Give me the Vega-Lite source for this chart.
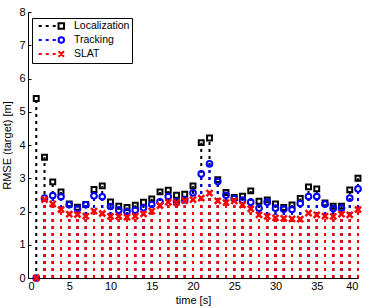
{
  "$schema": "https://vega.github.io/schema/vega-lite/v6.json",
  "width": 330,
  "height": 266,
  "autosize": {"type": "none"},
  "padding": {"left": 28, "top": 12, "right": 16, "bottom": 30},
  "background": "white",
  "config": {
    "view": {"stroke": null},
    "font": "Liberation Sans",
    "axis": {
      "grid": false,
      "domainColor": "#000000",
      "tickColor": "#000000",
      "labelColor": "#000000",
      "titleColor": "#000000",
      "labelFontSize": 11,
      "titleFontSize": 11,
      "titleFontWeight": "normal",
      "tickSize": -3,
      "labelFont": "Liberation Sans",
      "titleFont": "Liberation Sans"
    },
    "legend": {
      "orient": "none",
      "legendX": 4,
      "legendY": 6,
      "strokeColor": "#000000",
      "fillColor": "#ffffff",
      "padding": 2,
      "rowPadding": 0,
      "labelFontSize": 10.5,
      "labelFont": "Liberation Sans",
      "labelColor": "#000000",
      "labelOffset": 28,
      "symbolSize": 100,
      "symbolStrokeWidth": 2,
      "symbolFillColor": "transparent"
    }
  },
  "data": {
    "values": [
      {"t": 1, "series": "Localization", "v": 5.40},
      {"t": 2, "series": "Localization", "v": 3.63},
      {"t": 3, "series": "Localization", "v": 2.89},
      {"t": 4, "series": "Localization", "v": 2.59},
      {"t": 5, "series": "Localization", "v": 2.23},
      {"t": 6, "series": "Localization", "v": 2.13},
      {"t": 7, "series": "Localization", "v": 2.21},
      {"t": 8, "series": "Localization", "v": 2.66},
      {"t": 9, "series": "Localization", "v": 2.77},
      {"t": 10, "series": "Localization", "v": 2.29},
      {"t": 11, "series": "Localization", "v": 2.16},
      {"t": 12, "series": "Localization", "v": 2.12},
      {"t": 13, "series": "Localization", "v": 2.19},
      {"t": 14, "series": "Localization", "v": 2.28},
      {"t": 15, "series": "Localization", "v": 2.38},
      {"t": 16, "series": "Localization", "v": 2.59},
      {"t": 17, "series": "Localization", "v": 2.64},
      {"t": 18, "series": "Localization", "v": 2.49},
      {"t": 19, "series": "Localization", "v": 2.52},
      {"t": 20, "series": "Localization", "v": 2.77},
      {"t": 21, "series": "Localization", "v": 4.07},
      {"t": 22, "series": "Localization", "v": 4.21},
      {"t": 23, "series": "Localization", "v": 2.96},
      {"t": 24, "series": "Localization", "v": 2.57},
      {"t": 25, "series": "Localization", "v": 2.42},
      {"t": 26, "series": "Localization", "v": 2.46},
      {"t": 27, "series": "Localization", "v": 2.62},
      {"t": 28, "series": "Localization", "v": 2.31},
      {"t": 29, "series": "Localization", "v": 2.35},
      {"t": 30, "series": "Localization", "v": 2.23},
      {"t": 31, "series": "Localization", "v": 2.12},
      {"t": 32, "series": "Localization", "v": 2.20},
      {"t": 33, "series": "Localization", "v": 2.39},
      {"t": 34, "series": "Localization", "v": 2.74},
      {"t": 35, "series": "Localization", "v": 2.68},
      {"t": 36, "series": "Localization", "v": 2.26},
      {"t": 37, "series": "Localization", "v": 2.16},
      {"t": 38, "series": "Localization", "v": 2.16},
      {"t": 39, "series": "Localization", "v": 2.65},
      {"t": 40, "series": "Localization", "v": 3.00},
      {"t": 1, "series": "Tracking", "v": 0},
      {"t": 2, "series": "Tracking", "v": 2.40},
      {"t": 3, "series": "Tracking", "v": 2.48},
      {"t": 4, "series": "Tracking", "v": 2.44},
      {"t": 5, "series": "Tracking", "v": 2.20},
      {"t": 6, "series": "Tracking", "v": 2.08},
      {"t": 7, "series": "Tracking", "v": 2.20},
      {"t": 8, "series": "Tracking", "v": 2.47},
      {"t": 9, "series": "Tracking", "v": 2.44},
      {"t": 10, "series": "Tracking", "v": 2.15},
      {"t": 11, "series": "Tracking", "v": 2.04},
      {"t": 12, "series": "Tracking", "v": 1.99},
      {"t": 13, "series": "Tracking", "v": 2.04},
      {"t": 14, "series": "Tracking", "v": 2.11},
      {"t": 15, "series": "Tracking", "v": 2.21},
      {"t": 16, "series": "Tracking", "v": 2.29},
      {"t": 17, "series": "Tracking", "v": 2.45},
      {"t": 18, "series": "Tracking", "v": 2.30},
      {"t": 19, "series": "Tracking", "v": 2.35},
      {"t": 20, "series": "Tracking", "v": 2.56},
      {"t": 21, "series": "Tracking", "v": 3.13},
      {"t": 22, "series": "Tracking", "v": 3.43},
      {"t": 23, "series": "Tracking", "v": 2.90},
      {"t": 24, "series": "Tracking", "v": 2.49},
      {"t": 25, "series": "Tracking", "v": 2.39},
      {"t": 26, "series": "Tracking", "v": 2.34},
      {"t": 27, "series": "Tracking", "v": 2.28},
      {"t": 28, "series": "Tracking", "v": 2.10},
      {"t": 29, "series": "Tracking", "v": 2.28},
      {"t": 30, "series": "Tracking", "v": 2.10},
      {"t": 31, "series": "Tracking", "v": 2.07},
      {"t": 32, "series": "Tracking", "v": 2.06},
      {"t": 33, "series": "Tracking", "v": 2.24},
      {"t": 34, "series": "Tracking", "v": 2.45},
      {"t": 35, "series": "Tracking", "v": 2.45},
      {"t": 36, "series": "Tracking", "v": 2.22},
      {"t": 37, "series": "Tracking", "v": 2.09},
      {"t": 38, "series": "Tracking", "v": 2.10},
      {"t": 39, "series": "Tracking", "v": 2.40},
      {"t": 40, "series": "Tracking", "v": 2.68},
      {"t": 1, "series": "SLAT", "v": 0},
      {"t": 2, "series": "SLAT", "v": 2.36},
      {"t": 3, "series": "SLAT", "v": 2.23},
      {"t": 4, "series": "SLAT", "v": 2.06},
      {"t": 5, "series": "SLAT", "v": 1.92},
      {"t": 6, "series": "SLAT", "v": 1.91},
      {"t": 7, "series": "SLAT", "v": 1.86},
      {"t": 8, "series": "SLAT", "v": 2.01},
      {"t": 9, "series": "SLAT", "v": 1.94},
      {"t": 10, "series": "SLAT", "v": 1.85},
      {"t": 11, "series": "SLAT", "v": 1.85},
      {"t": 12, "series": "SLAT", "v": 1.83},
      {"t": 13, "series": "SLAT", "v": 1.86},
      {"t": 14, "series": "SLAT", "v": 1.93},
      {"t": 15, "series": "SLAT", "v": 2.01},
      {"t": 16, "series": "SLAT", "v": 2.18},
      {"t": 17, "series": "SLAT", "v": 2.28},
      {"t": 18, "series": "SLAT", "v": 2.27},
      {"t": 19, "series": "SLAT", "v": 2.33},
      {"t": 20, "series": "SLAT", "v": 2.36},
      {"t": 21, "series": "SLAT", "v": 2.40},
      {"t": 22, "series": "SLAT", "v": 2.55},
      {"t": 23, "series": "SLAT", "v": 2.32},
      {"t": 24, "series": "SLAT", "v": 2.27},
      {"t": 25, "series": "SLAT", "v": 2.32},
      {"t": 26, "series": "SLAT", "v": 2.20},
      {"t": 27, "series": "SLAT", "v": 2.08},
      {"t": 28, "series": "SLAT", "v": 1.90},
      {"t": 29, "series": "SLAT", "v": 1.85},
      {"t": 30, "series": "SLAT", "v": 1.81},
      {"t": 31, "series": "SLAT", "v": 1.79},
      {"t": 32, "series": "SLAT", "v": 1.78},
      {"t": 33, "series": "SLAT", "v": 1.77},
      {"t": 34, "series": "SLAT", "v": 1.95},
      {"t": 35, "series": "SLAT", "v": 1.90},
      {"t": 36, "series": "SLAT", "v": 1.86},
      {"t": 37, "series": "SLAT", "v": 1.85},
      {"t": 38, "series": "SLAT", "v": 1.92},
      {"t": 39, "series": "SLAT", "v": 1.90},
      {"t": 40, "series": "SLAT", "v": 2.06}
    ]
  },
  "encoding": {
    "x": {
      "field": "t",
      "type": "quantitative",
      "scale": {"domain": [0, 40], "nice": false},
      "axis": {
        "title": "time [s]",
        "values": [0, 5, 10, 15, 20, 25, 30, 35, 40],
        "labelPadding": 5,
        "titlePadding": 3
      }
    },
    "y": {
      "field": "v",
      "type": "quantitative",
      "scale": {"domain": [0, 8], "nice": false},
      "axis": {
        "title": "RMSE (target) [m]",
        "values": [0, 1, 2, 3, 4, 5, 6, 7, 8],
        "labelPadding": 6,
        "titlePadding": 6
      }
    }
  },
  "layer": [
    {
      "transform": [{"filter": "datum.series === 'Localization'"}],
      "mark": {"type": "rule", "stroke": "#000000", "strokeWidth": 2, "strokeDash": [3, 4], "strokeCap": "butt", "strokeDashOffset": {"expr": "scale('y', datum.v) - scale('y', 0) + 3"}},
      "encoding": {"y2": {"datum": 0}}
    },
    {
      "transform": [{"filter": "datum.series === 'Localization'"}],
      "mark": {"type": "point", "shape": "square", "filled": false, "size": 24, "strokeWidth": 2, "opacity": 1},
      "encoding": {
        "color": {
          "field": "series",
          "type": "nominal",
          "scale": {"domain": ["Localization", "Tracking", "SLAT"], "range": ["#000000", "#0000ff", "#ff0000"]},
          "legend": {"title": null}
        }
      }
    },
    {
      "transform": [{"filter": "datum.series === 'Tracking'"}],
      "mark": {"type": "rule", "stroke": "#0000ff", "strokeWidth": 2, "strokeDash": [3, 4], "strokeCap": "butt", "strokeDashOffset": {"expr": "scale('y', datum.v) - scale('y', 0) + 3"}},
      "encoding": {"y2": {"datum": 0}}
    },
    {
      "transform": [{"filter": "datum.series === 'Tracking'"}],
      "mark": {"type": "point", "shape": "circle", "filled": false, "size": 32, "strokeWidth": 2, "opacity": 1},
      "encoding": {
        "color": {"field": "series", "type": "nominal", "legend": {"title": null}}
      }
    },
    {
      "transform": [{"filter": "datum.series === 'SLAT'"}],
      "mark": {"type": "rule", "stroke": "#ff0000", "strokeWidth": 2, "strokeDash": [3, 4], "strokeCap": "butt", "strokeDashOffset": {"expr": "scale('y', datum.v) - scale('y', 0) + 3"}},
      "encoding": {"y2": {"datum": 0}}
    },
    {
      "transform": [{"filter": "datum.series === 'SLAT'"}],
      "mark": {"type": "rule", "stroke": "#ff0000", "strokeWidth": 2, "strokeDash": [3, 4], "strokeCap": "butt", "strokeDashOffset": {"expr": "scale('y', datum.v) - scale('y', 0) + 3"}},
      "encoding": {"y2": {"datum": 0}}
    },
    {
      "transform": [{"filter": "datum.series === 'SLAT'"}],
      "mark": {"type": "point", "shape": "M-1,-1L1,1M-1,1L1,-1", "filled": false, "size": 36, "strokeWidth": 2.5, "opacity": 1},
      "encoding": {
        "color": {"field": "series", "type": "nominal", "legend": {"title": null}}
      }
    },
    {
      "transform": [{"filter": "false"}],
      "mark": {"type": "point", "filled": false, "size": 100, "strokeWidth": 2, "opacity": 1},
      "encoding": {
        "color": {"field": "series", "type": "nominal", "legend": {"title": null}},
        "shape": {
          "field": "series",
          "type": "nominal",
          "scale": {
            "domain": ["Localization", "Tracking", "SLAT"],
            "range": [
              "M-0.26,0H0.34M1.14,0H1.74M2.54,0H3.14M3.71,-0.55H4.81V0.55H3.71Z",
              "M-0.26,0H0.34M1.14,0H1.74M2.54,0H3.14M4.81,0A0.55,0.55,0,1,1,3.71,0A0.55,0.55,0,1,1,4.81,0Z",
              "M-0.26,0H0.34M1.14,0H1.74M2.54,0H3.14M3.71,-0.55L4.81,0.55M3.71,0.55L4.81,-0.55"
            ]
          },
          "legend": {"title": null}
        }
      }
    }
  ]
}
